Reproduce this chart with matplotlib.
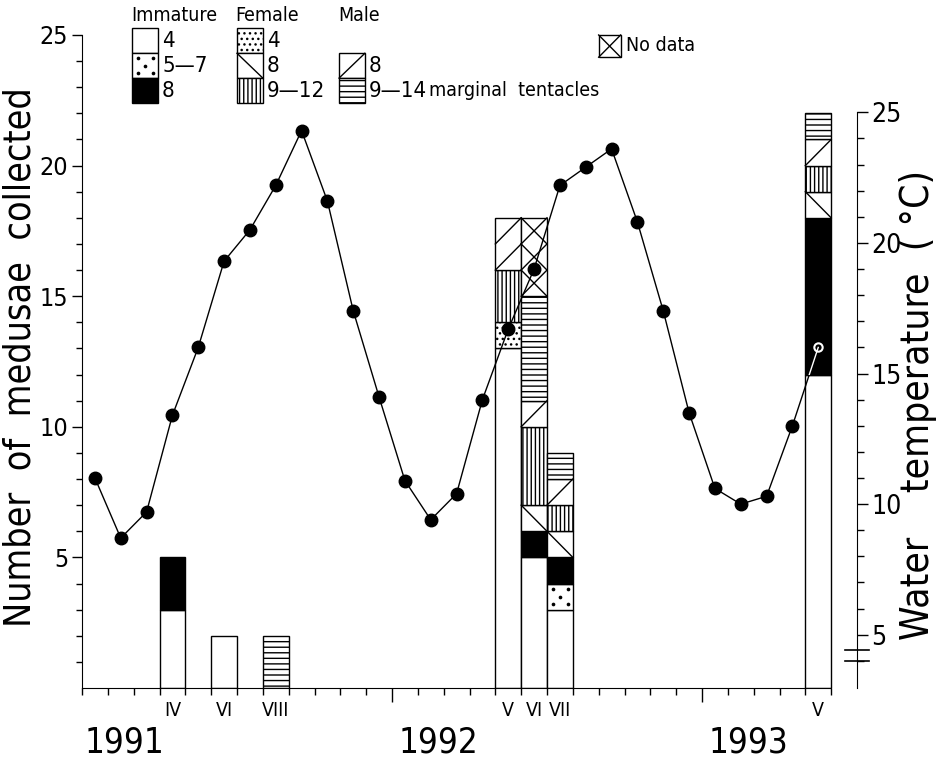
import matplotlib
matplotlib.use("Agg")
import matplotlib.pyplot as plt
import numpy as np

plt.rcParams["font.family"] = ["DejaVu Sans"]
plt.rcParams["font.stretch"] = "condensed"
plt.rcParams["hatch.linewidth"] = 1.0

# месяцы считаем от января 1991 (0 = начало января 1991)
temp_month = np.arange(29)
temp_c = [11.0, 8.7, 9.7, 13.4, 16.0, 19.3, 20.5, 22.2, 24.3, 21.6, 17.4, 14.1,
          10.9, 9.4, 10.4, 14.0, 16.7, 19.0, 22.2, 22.9, 23.6, 20.8, 17.4, 13.5,
          10.6, 10.0, 10.3, 13.0, 16.0]

# сборы медуз: месяц, подпись и число особей по классам
sample_month = [3, 5, 7, 16, 17, 18, 28]
sample_label = ["IV", "VI", "VIII", "V", "VI", "VII", "V"]
imm4 = [3, 2, 0, 13, 5, 3, 12]
imm57 = [0, 0, 0, 0, 0, 1, 0]
imm8 = [2, 0, 0, 0, 1, 1, 6]
fem4 = [0, 0, 0, 1, 0, 0, 0]
fem8 = [0, 0, 0, 0, 1, 1, 1]
fem912 = [0, 0, 0, 2, 3, 1, 1]
male8 = [0, 0, 0, 2, 1, 1, 1]
male914 = [0, 0, 2, 0, 4, 1, 1]
nodata = [0, 0, 0, 0, 3, 0, 0]

years = ["1991", "1992", "1993"]
year_pos = [1.65, 13.8, 25.8]

T_OFFSET = 2.96   # 0 по левой оси = 2.96 °C по правой

STACK = [("imm4", imm4), ("imm57", imm57), ("imm8", imm8), ("fem4", fem4),
         ("fem8", fem8), ("fem912", fem912), ("male8", male8),
         ("male914", male914), ("nodata", nodata)]

STYLE = {
    "imm4": ("white", None), "imm57": ("white", None), "imm8": ("black", None),
    "fem4": ("white", "..."), "fem8": ("white", None), "fem912": ("white", "||||"),
    "male8": ("white", None), "male914": ("white", "---"), "nodata": ("white", None),
}
DOT_X = np.array([0.22, 0.8, 0.5, 0.22, 0.8])
DOT_Y = np.array([0.2, 0.2, 0.5, 0.8, 0.8])


def draw_piece(ax, x, bottom, height, kind, width=1.0, unit=1.0, clip=True):
    face, hatch = STYLE[kind]
    bars = ax.bar(x, height, width=width, bottom=bottom, align="edge",
                  color=face, edgecolor="black", linewidth=1.0, hatch=hatch, zorder=2)
    for p in bars:
        p.set_clip_on(clip)
    n = int(round(height / unit))
    for k in range(n):
        lo = bottom + k * unit
        hi = lo + unit
        if kind in ("fem8", "nodata"):
            ax.plot([x, x + width], [hi, lo], color="black", lw=1.0, zorder=2.5, clip_on=clip)
        if kind in ("male8", "nodata"):
            ax.plot([x, x + width], [lo, hi], color="black", lw=1.0, zorder=2.5, clip_on=clip)
        if kind == "imm57":
            ax.scatter(x + width * DOT_X, lo + unit * DOT_Y, s=7, color="black",
                       zorder=2.5, clip_on=clip, linewidths=0)
    return bars


fig = plt.figure(figsize=(9.38, 7.62), dpi=100)
ax = fig.add_axes([82 / 938, 74 / 762, 775 / 938, 653 / 762])

# столбики с накоплением
black_patches = []
bottom = np.zeros(len(sample_month))
for kind, vals in STACK:
    for i, m in enumerate(sample_month):
        if vals[i] > 0:
            bars = draw_piece(ax, m, bottom[i], vals[i], kind)
            if kind == "imm8":
                black_patches.extend(bars.patches)
    bottom += np.array(vals)

ax.set_xlim(0, 30)
ax.set_ylim(0, 25)
for s in ("top", "right"):
    ax.spines[s].set_visible(False)
ax.spines["bottom"].set_bounds(0, 29)
ax.set_yticks([5, 10, 15, 20, 25])
ax.set_yticks(range(1, 26), minor=True)
ax.tick_params(axis="y", which="major", length=7, width=1, labelsize=18, pad=3)
ax.tick_params(axis="y", which="minor", length=4, width=1)
ax.set_xticks([12, 24])
ax.set_xticks(range(0, 30), minor=True)
ax.set_xticklabels([])
ax.tick_params(axis="x", which="major", length=10, width=1)
ax.tick_params(axis="x", which="minor", length=5, width=1)

for m, lab in zip(sample_month, sample_label):
    ax.text(m + 0.5, -0.85, lab, ha="center", va="center", fontsize=14)
for y, p in zip(years, year_pos):
    ax.text(p, -2.1, y, ha="center", va="center", fontsize=25)

# температура воды на правой оси
ax2 = ax.twinx()
ax2.set_ylim(T_OFFSET, 25 + T_OFFSET)
for s in ("top", "left", "bottom"):
    ax2.spines[s].set_visible(False)
ax2.spines["right"].set_bounds(T_OFFSET, 25)
ax2.set_yticks([5, 10, 15, 20, 25])
ax2.set_yticks(range(4, 26), minor=True)
ax2.tick_params(axis="y", which="major", length=8, width=1, labelsize=19, pad=2)
ax2.tick_params(axis="y", which="minor", length=5, width=1)
for yb in (4.0, 4.4):
    ax2.plot([0.985, 1.015], [yb, yb], color="black", lw=1.2,
             transform=ax2.get_yaxis_transform(), clip_on=False)

x_mid = temp_month + 0.5
ax2.plot(x_mid, temp_c, color="black", lw=1.0, zorder=3)
ax2.plot(x_mid[:-1], temp_c[:-1], "o", color="black", ms=9, zorder=4)
ax2.plot(x_mid[-1], temp_c[-1], "o", mfc="none", mec="white", ms=6, mew=1.5, zorder=5)
# внутри чёрной части столбика линия видна белой
for p in black_patches:
    ln, = ax2.plot(x_mid, temp_c, color="white", lw=1.0, zorder=3.5)
    ln.set_clip_path(p.get_path(), p.get_transform())

# легенда
LEG_TOP = 25.25
CELL_H = 0.95
legend_cols = [(1.95, "Immature", ["imm4", "imm57", "imm8"], ["4", "5\u20147", "8"]),
               (6.0, "Female", ["fem4", "fem8", "fem912"], ["4", "8", "9\u201412"]),
               (9.95, "Male", [None, "male8", "male914"], ["", "8", "9\u201414"])]
for x0, head, kinds, labs in legend_cols:
    ax.text(x0 - 0.05, 25.75, head, ha="left", va="center", fontsize=14, clip_on=False)
    for r, (kind, lab) in enumerate(zip(kinds, labs)):
        if kind is None:
            continue
        lo = LEG_TOP - (r + 1) * CELL_H
        draw_piece(ax, x0, lo, CELL_H, kind, width=1.0, unit=CELL_H, clip=False)
        ax.text(x0 + 1.15, lo + CELL_H / 2, lab, ha="left", va="center",
                fontsize=16, clip_on=False)
ax.text(13.45, LEG_TOP - 2.5 * CELL_H, "marginal  tentacles", ha="left", va="center",
        fontsize=14, clip_on=False)
draw_piece(ax, 20.0, 24.15, 0.85, "nodata", width=0.85, unit=0.85, clip=False)
ax.text(21.05, 24.58, "No data", ha="left", va="center", fontsize=14, clip_on=False)

fig.text(21 / 938, 1 - 357 / 762, "Number  of  medusae  collected", rotation=90,
         ha="center", va="center", fontsize=27)
fig.text(918 / 938, 1 - 405 / 762, "Water    temperature  ( \u00b0C)", rotation=90,
         ha="center", va="center", fontsize=28)

fig.savefig("out.png", dpi=100)
